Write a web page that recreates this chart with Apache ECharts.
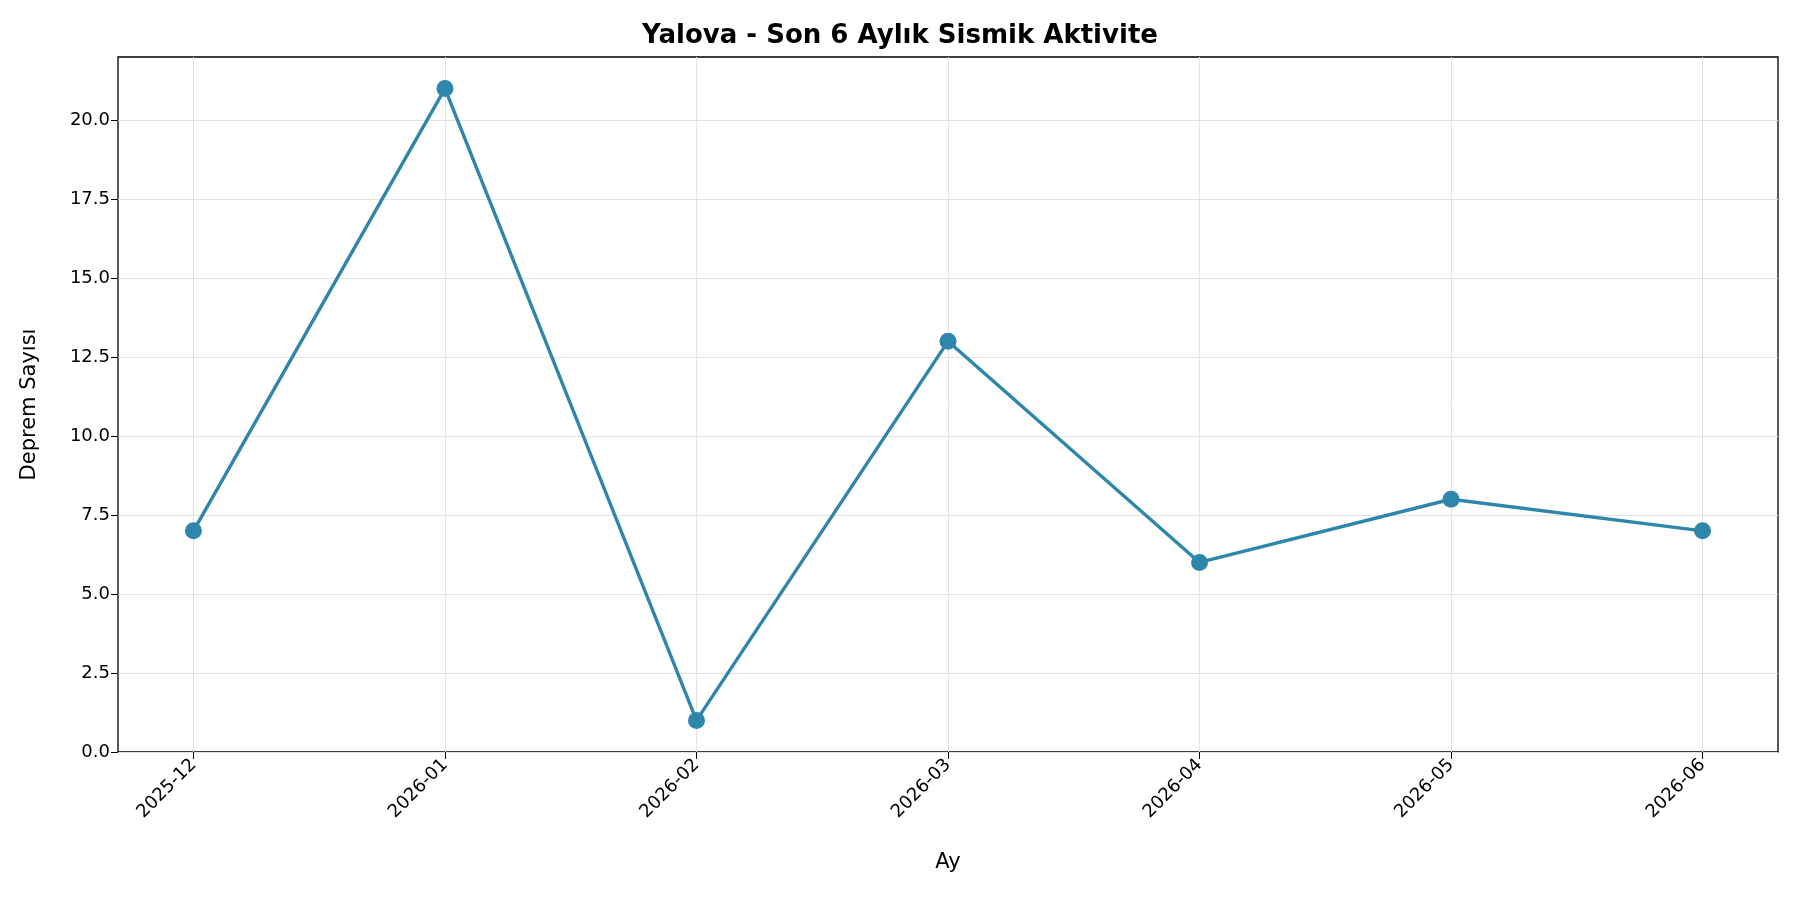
<!DOCTYPE html><html><head><meta charset="utf-8">
<script src="https://cdn.jsdelivr.net/npm/echarts@6/dist/echarts.min.js"></script>
<style>html,body{margin:0;background:#fff}#c{width:1800px;height:900px}</style></head><body><div id="c"></div>
<script>
const categories=['2025-12','2026-01','2026-02','2026-03','2026-04','2026-05','2026-06'];
const counts=[7,21,1,13,6,8,7];
const yTicks=[0,2.5,5,7.5,10,12.5,15,17.5,20];
const idx=categories.map((_,i)=>i);
const ch=echarts.init(document.getElementById('c'));
const F='DejaVu Sans';
ch.setOption({
 title:{text:'Yalova - Son 6 Aylık Sismik Aktivite',left:'center',top:18,textStyle:{fontFamily:F,fontSize:26,fontWeight:'bold',color:'#000'}},
 grid:{left:118,right:22,top:57,bottom:148,show:true,borderColor:'#000',borderWidth:1.3},
 xAxis:{type:'value',min:-0.3,max:6.3,name:'Ay',nameLocation:'middle',nameGap:100,nameTextStyle:{fontFamily:F,fontSize:21,color:'#000'},
  axisLine:{show:false,onZero:false},
  axisTick:{show:true,customValues:idx,length:7,lineStyle:{color:'#000'}},
  axisLabel:{customValues:idx,rotate:45,fontFamily:F,fontSize:18,color:'#000',margin:10,formatter:v=>categories[Math.round(v)]},
  splitLine:{show:true,lineStyle:{color:'#e3e3e3'}}},
 yAxis:{type:'value',min:0,max:22,name:'Deprem Sayısı',nameLocation:'middle',nameGap:78,nameTextStyle:{fontFamily:F,fontSize:21,color:'#000'},
  axisLine:{show:false,onZero:false},
  axisTick:{show:true,customValues:yTicks,length:7,lineStyle:{color:'#000'}},
  axisLabel:{customValues:yTicks,fontFamily:F,fontSize:18,color:'#000',formatter:v=>v.toFixed(1)},
  splitLine:{show:true,lineStyle:{color:'#e3e3e3'}}},
 series:[{type:'line',data:counts.map((v,i)=>[i,v]),symbol:'circle',symbolSize:17,lineStyle:{width:3.4,color:'#2E86AB'},itemStyle:{color:'#2E86AB'},animation:false}]
});
</script></body></html>
